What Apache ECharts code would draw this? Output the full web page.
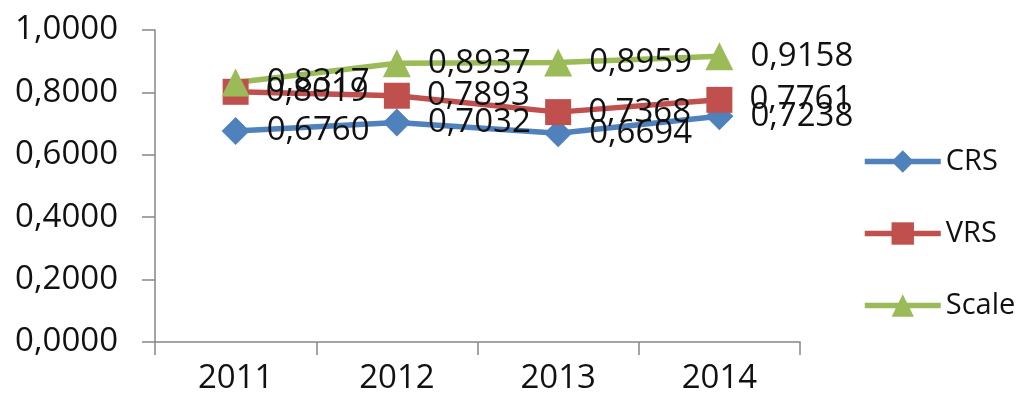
<!DOCTYPE html>
<html><head><meta charset="utf-8">
<script src="https://cdn.jsdelivr.net/npm/echarts@6/dist/echarts.min.js"></script>
<style>html,body{margin:0;padding:0;background:#fff}#c{width:1019px;height:401px}</style>
</head><body><div id="c"></div>
<script>
const categories = ['2011', '2012', '2013', '2014'];
const crs = [0.6760, 0.7032, 0.6694, 0.7238];
const vrs = [0.8019, 0.7893, 0.7368, 0.7761];
const scale = [0.8317, 0.8937, 0.8959, 0.9158];
const seriesNames = ['CRS', 'VRS', 'Scale'];

const FONT = 'Open Sans';
const TXT = '#111';
const fmt = v => v.toFixed(4).replace('.', ',');
function mk(name, data, color, symbol, size) {
  return {
    name, type: 'line', data, symbol, symbolSize: size,
    lineStyle: { color, width: 5.5 }, itemStyle: { color },
    label: { show: true, position: 'right', distance: 17, color: TXT,
      fontFamily: FONT, fontSize: 33, formatter: p => fmt(p.value) },
    z: 2
  };
}
const chart = echarts.init(document.getElementById('c'));
chart.setOption({
  animation: false,
  backgroundColor: '#fff',
  grid: { left: 155, top: 30, right: 219, bottom: 59 },
  legend: {
    orient: 'vertical', left: 857, top: 142,
    itemWidth: 76, itemHeight: 28, itemGap: 43,
    lineStyle: { width: 5.5 },
    textStyle: { fontFamily: FONT, fontSize: 29, color: TXT, lineHeight: 28 },
    data: seriesNames
  },
  xAxis: {
    type: 'category', data: categories, boundaryGap: true,
    axisLine: { lineStyle: { color: '#868686', width: 1.5 } },
    axisTick: { show: true, length: 13, lineStyle: { color: '#868686', width: 1.5 } },
    axisLabel: { fontFamily: FONT, fontSize: 33, color: TXT, margin: 20 }
  },
  yAxis: {
    type: 'value', min: 0, max: 1, interval: 0.2,
    splitLine: { show: false },
    axisLine: { show: true, lineStyle: { color: '#868686', width: 1.5 } },
    axisTick: { show: true, length: 13, lineStyle: { color: '#868686', width: 1.5 } },
    axisLabel: { fontFamily: FONT, fontSize: 33, color: TXT, margin: 37, formatter: v => fmt(v) }
  },
  series: [
    mk('CRS', crs, '#4F81BD', 'diamond', 28),
    mk('VRS', vrs, '#C0504D', 'rect', 26),
    mk('Scale', scale, '#9BBB59', 'triangle', 28)
  ]
});
</script></body></html>
